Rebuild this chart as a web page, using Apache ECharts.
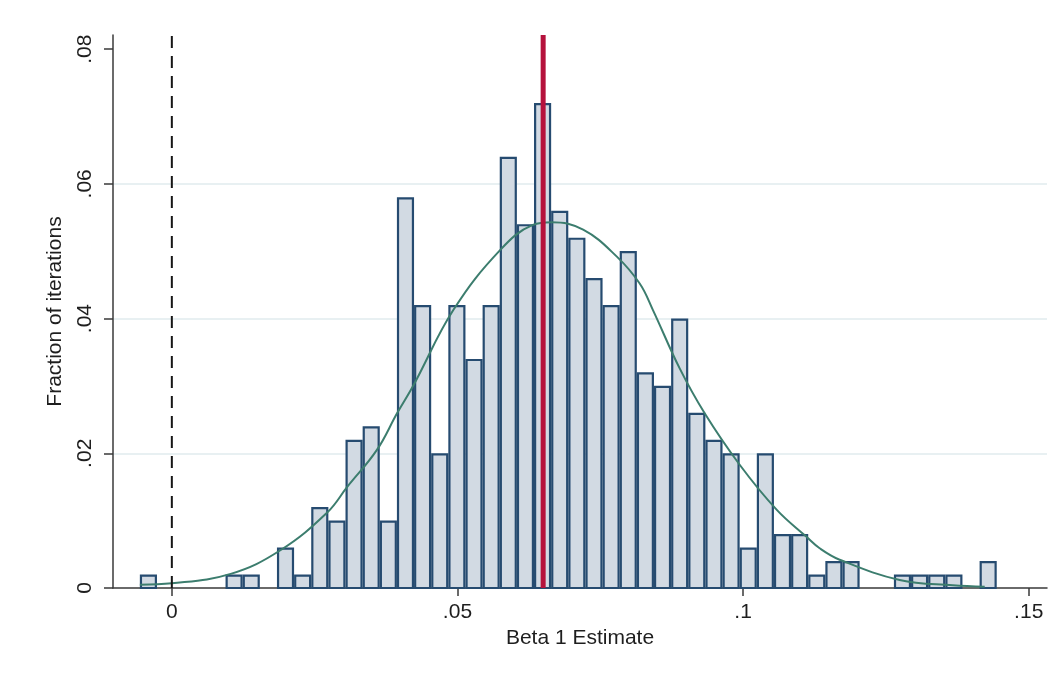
<!DOCTYPE html>
<html>
<head>
<meta charset="utf-8">
<title>Beta 1 Estimate histogram</title>
<script src="https://cdn.jsdelivr.net/npm/echarts@6/dist/echarts.min.js"></script>
<style>
  html, body { margin: 0; padding: 0; background: #ffffff; }
  #chart { width: 1062px; height: 675px; }
</style>
</head>
<body>
<div id="chart"></div>
<script>
// Histogram of beta 1 estimates: 50 bins of width 0.003 starting at -0.0056
const binStart = -0.0056;
const binWidth = 0.003;
const binFractions = [
  0.002, 0, 0, 0, 0, 0.002, 0.002, 0, 0.006, 0.002,
  0.012, 0.010, 0.022, 0.024, 0.010, 0.058, 0.042, 0.020, 0.042, 0.034,
  0.042, 0.064, 0.054, 0.072, 0.056, 0.052, 0.046, 0.042, 0.050, 0.032,
  0.030, 0.040, 0.026, 0.022, 0.020, 0.006, 0.020, 0.008, 0.008, 0.002,
  0.004, 0.004, 0, 0, 0.002, 0.002, 0.002, 0.002, 0, 0.004
];

// Normal density overlay (x, fraction)
const curveX = [
  -0.0056, 0.0, 0.0103, 0.0190, 0.0272, 0.0307, 0.0359, 0.0394, 0.0423, 0.0493,
  0.0575, 0.0632, 0.0665, 0.0720, 0.0779, 0.0819, 0.0842, 0.0889, 0.0933, 0.0994,
  0.1059, 0.1111, 0.1134, 0.1169, 0.1274, 0.1367, 0.1423
];
const curveY = [
  0.0005, 0.0007, 0.0021, 0.0056, 0.0112, 0.0150, 0.0205, 0.0259, 0.0301, 0.0413,
  0.0502, 0.0539, 0.0543, 0.0532, 0.0492, 0.0452, 0.0413, 0.0326, 0.0259, 0.0183,
  0.0116, 0.0076, 0.0059, 0.0042, 0.0012, 0.0004, 0.0002
];

// Reference lines: zero and the point estimate
const zeroLine = 0;
const estimateLine = 0.065;

// Axis ranges and ticks
const xMin = -0.0103, xMax = 0.1532;
const yMin = 0, yMax = 0.0821;
const xTicks = [0, 0.05, 0.1, 0.15];
const yTicks = [0, 0.02, 0.04, 0.06, 0.08];

const fmt = v => (v === 0 ? '0' : String(v).replace(/^0/, ''));

const barData = [];
binFractions.forEach((f, i) => {
  if (f > 0) {
    const left = binStart + i * binWidth;
    barData.push([left, left + binWidth, f]);
  }
});

const curveData = curveX.map((x, i) => [x, curveY[i]]);
const vLine = x => [[x, yMin], [x, yMax]];

const FONT = 'Liberation Sans, Arial, sans-serif';
const TEXT = '#1e1e1e';
const AXIS = '#3a3a3a';

const chart = echarts.init(document.getElementById('chart'), null, { renderer: 'canvas' });

chart.setOption({
  backgroundColor: '#ffffff',
  animation: false,
  grid: { left: 113, right: 15, top: 35, bottom: 87, containLabel: false },
  xAxis: {
    type: 'value',
    min: xMin,
    max: xMax,
    name: 'Beta 1 Estimate',
    nameLocation: 'middle',
    nameGap: 38,
    nameTextStyle: { fontFamily: FONT, fontSize: 21, color: TEXT },
    axisLine: { show: true, onZero: false, lineStyle: { color: AXIS, width: 1.5 } },
    axisTick: { show: true, length: 8, customValues: xTicks, lineStyle: { color: AXIS, width: 1.5 } },
    axisLabel: { customValues: xTicks, formatter: fmt, fontFamily: FONT, fontSize: 21, color: TEXT, margin: 14 },
    splitLine: { show: false }
  },
  yAxis: {
    type: 'value',
    min: yMin,
    max: yMax,
    interval: 0.02,
    name: 'Fraction of iterations',
    nameLocation: 'middle',
    nameGap: 47,
    nameTextStyle: { fontFamily: FONT, fontSize: 21, color: TEXT },
    axisLine: { show: true, onZero: false, lineStyle: { color: AXIS, width: 1.5 } },
    axisTick: { show: true, length: 9, customValues: yTicks, lineStyle: { color: AXIS, width: 1.5 } },
    axisLabel: { customValues: yTicks, formatter: fmt, rotate: 90, fontFamily: FONT, fontSize: 21, color: TEXT, margin: 17 },
    splitLine: { show: true, showMinLine: false, showMaxLine: false, lineStyle: { color: '#e8f0f2', width: 2 } }
  },
  series: [
    {
      type: 'custom',
      name: 'bins',
      z: 2,
      data: barData,
      renderItem: function (params, api) {
        const pTop = api.coord([api.value(0), api.value(2)]);
        const pBot = api.coord([api.value(1), 0]);
        return {
          type: 'rect',
          shape: {
            x: pTop[0] + 1.1,
            y: pTop[1] + 1,
            width: pBot[0] - pTop[0] - 2.2,
            height: pBot[1] - pTop[1] - 1
          },
          style: { fill: '#d2dae3', stroke: '#264b70', lineWidth: 2.2 }
        };
      }
    },
    {
      type: 'line',
      name: 'normal',
      z: 3,
      data: curveData,
      smooth: 0.4,
      showSymbol: false,
      symbol: 'none',
      lineStyle: { color: '#3c7d6e', width: 2 }
    },
    {
      type: 'line',
      name: 'zero',
      z: 4,
      data: vLine(zeroLine),
      showSymbol: false,
      symbol: 'none',
      clip: false,
      lineStyle: { color: '#161616', width: 2, type: [12, 8] }
    },
    {
      type: 'line',
      name: 'estimate',
      z: 5,
      data: vLine(estimateLine),
      showSymbol: false,
      symbol: 'none',
      clip: false,
      lineStyle: { color: '#b5123c', width: 5 }
    }
  ]
});
</script>
</body>
</html>
